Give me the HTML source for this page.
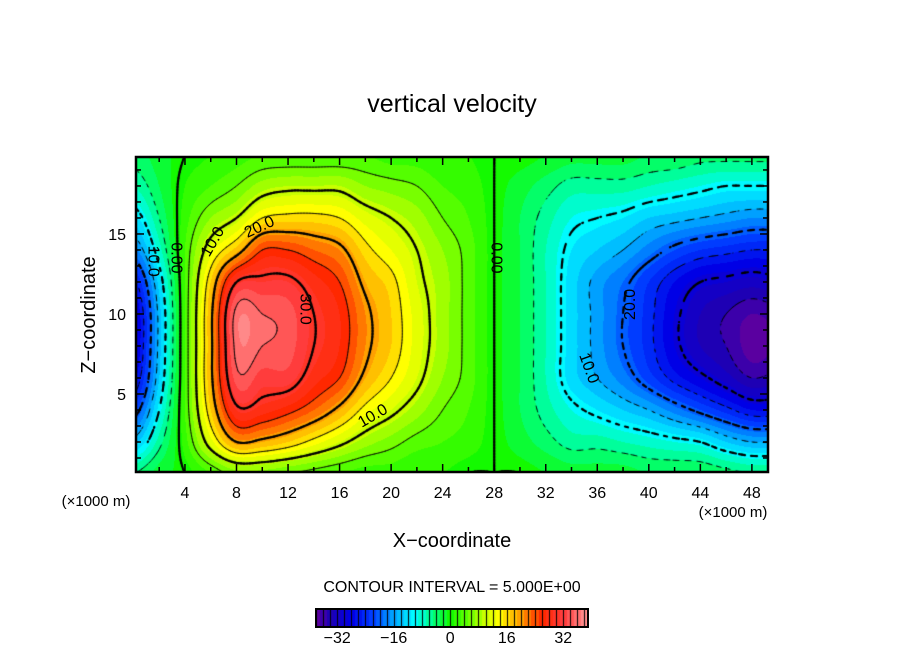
<!DOCTYPE html>
<html><head><meta charset="utf-8"><style>
html,body{margin:0;padding:0;background:#fff;}
#wrap{position:relative;width:904px;height:654px;overflow:hidden;font-family:"Liberation Sans",sans-serif;}
canvas{position:absolute;left:0;top:0;}
svg{position:absolute;left:0;top:0;}
</style></head><body>
<div id="wrap">
<canvas id="cv" width="904" height="654"></canvas>
<svg id="sv" width="904" height="654"></svg>
</div>
<script>
// grid data: x (km) columns, z (km) rows, vertical velocity values
const xs = [0,2,4,6,8,10,12,14,16,18,20,22,24,26,28,30,32,34,36,38,40,42,44,46,48,50];
const zs = [0,2,4,6,8,10,12,14,16,18,20];
const w0  = [-5,-14,-22,-28,-30,-30,-26,-18,-12,-7,-4];
const w2  = [-2,-6,-10,-13,-14,-14,-12,-8,-5,-3,-2];
const w4  = [0,2,3,3,3,3,3,3,2,1,0];
const w6  = [3,12,17,19,19,19,17,12,7,3,1];
const w8  = [6,20,29,34,36,36,30,18,10,5,2];
const w10 = [6,19,28,32,35,35,31,25,15,8,3];
const w12 = [5,17,26,32,34,34,31,25,16,9,3];
const w14 = [4,14,23,28,30,30,28,23,16,9,3];
const w16 = [3,11,19,25,27,27,25,21,15,9,3];
const w18 = [2,8,14,19,21,21,19,16,12,7,3];
const w20 = [2,6,11,15,17,17,16,13,10,6,2];
const w22 = [1,4,8,11,12,12,11,10,8,5,2];
const w24 = [1,3,5,7,8,8,8,7,5,3,1];
const w26 = [0,2,3,4,4,4,4,4,3,2,1];
const w28 = [0,0,0,0,0,0,0,0,0,0,0];
const w30 = [0,-2,-3,-3,-3,-3,-3,-3,-3,-2,0];
const w32 = [-1,-4,-6,-7,-7,-7,-7,-7,-6,-4,-1];
const w34 = [-2,-6,-9,-12,-12,-12,-12,-11,-9,-6,-2];
const w36 = [-2,-6,-11,-15,-16,-16,-16,-13,-10,-6,-2];
const w38 = [-2,-7,-13,-18,-20,-20,-19,-15,-11,-6,-2];
const w40 = [-3,-8,-15,-22,-24,-24,-23,-18,-13,-7,-3];
const w42 = [-3,-9,-18,-26,-29,-29,-27,-21,-14,-8,-3];
const w44 = [-3,-10,-21,-29,-33,-33,-30,-23,-15,-9,-4];
const w46 = [-4,-13,-24,-32,-35,-35,-31,-24,-16,-10,-4];
const w48 = [-5,-15,-27,-35,-38,-37,-32,-25,-17,-10,-4];
const w50 = [-5,-15,-27,-34,-37,-36,-31,-25,-17,-10,-4];
const cols = [w0,w2,w4,w6,w8,w10,w12,w14,w16,w18,w20,w22,w24,w26,w28,w30,w32,w34,w36,w38,w40,w42,w44,w46,w48,w50];
const levels = [-35,-30,-25,-20,-15,-10,-5,0,5,10,15,20,25,30,35];
const xTicks = [4,8,12,16,20,24,28,32,36,40,44,48];
const zTicks = [5,10,15];
const cbTicks = [-32,-16,0,16,32];
const labels = [
 {t:"0.00",x:3.3,z:13.5,r:90},{t:"10.0",x:1.5,z:13.3,r:90},{t:"10.0",x:6.2,z:14.5,r:-60},
 {t:"20.0",x:9.8,z:15.4,r:-25},{t:"30.0",x:13.3,z:10.3,r:90},{t:"10.0",x:18.6,z:3.6,r:-30},
 {t:"0.00",x:28.1,z:13.5,r:90},{t:"20.0",x:38.6,z:10.6,r:-90},{t:"10.0",x:35.3,z:6.6,r:70}
];

// geometry
const PX0=136, PX1=768, PY0=157, PY1=472;
const XD0=0.2, XD1=49.25, ZD0=0.125, ZD1=19.81;
const sx = x => PX0 + (x-XD0)/(XD1-XD0)*(PX1-PX0);
const sz = z => PY1 - (z-ZD0)/(ZD1-ZD0)*(PY1-PY0);
const ix = px => XD0 + (px-PX0)/(PX1-PX0)*(XD1-XD0);
const iz = py => ZD0 + (PY1-py)/(PY1-PY0)*(ZD1-ZD0);

function cr(p0,p1,p2,p3,t){return 0.5*((2*p1)+(-p0+p2)*t+(2*p0-5*p1+4*p2-p3)*t*t+(-p0+3*p1-3*p2+p3)*t*t*t);}
function val(x,z){
  const nx=xs.length, nz=zs.length;
  let fx=(x-xs[0])/(xs[1]-xs[0]); let fz=(z-zs[0])/(zs[1]-zs[0]);
  fx=Math.max(0,Math.min(nx-1.0001,fx)); fz=Math.max(0,Math.min(nz-1.0001,fz));
  const i=Math.floor(fx), j=Math.floor(fz), tx=fx-i, tz=fz-j;
  const g=(a,b)=>cols[Math.max(0,Math.min(nx-1,a))][Math.max(0,Math.min(nz-1,b))];
  const r=[];
  for(let jj=-1;jj<=2;jj++) r.push(cr(g(i-1,j+jj),g(i,j+jj),g(i+1,j+jj),g(i+2,j+jj),tx));
  return cr(r[0],r[1],r[2],r[3],tz);
}
const stops=[[-38,[90,0,160]],[-34,[30,0,180]],[-28,[0,0,230]],[-22,[0,60,255]],[-16,[0,160,255]],[-10,[0,250,255]],[-5,[0,255,130]],[0,[20,250,0]],[5,[100,255,0]],[10,[200,255,0]],[14,[255,255,0]],[20,[255,160,0]],[26,[255,40,0]],[32,[255,60,60]],[39,[255,150,150]]];
function col(v){
  v=Math.round(v/2)*2;
  if(v<=stops[0][0]) return stops[0][1];
  for(let k=1;k<stops.length;k++){ if(v<=stops[k][0]){const a=stops[k-1],b=stops[k];const t=(v-a[0])/(b[0]-a[0]);return a[1].map((c,i)=>Math.round(c+(b[1][i]-c)*t));}}
  return stops[stops.length-1][1];
}
const cv=document.getElementById('cv'), ctx=cv.getContext('2d');
const img=ctx.createImageData(PX1-PX0,PY1-PY0);
for(let py=PY0;py<PY1;py++)for(let px=PX0;px<PX1;px++){
  const c=col(val(ix(px+0.5),iz(py+0.5)));const o=((py-PY0)*(PX1-PX0)+(px-PX0))*4;
  img.data[o]=c[0];img.data[o+1]=c[1];img.data[o+2]=c[2];img.data[o+3]=255;}
ctx.putImageData(img,PX0,PY0);
// contours (marching squares)
const S=3, NX=Math.ceil((PX1-PX0)/S), NZ=Math.ceil((PY1-PY0)/S);
const F=[];for(let a=0;a<=NX;a++){F.push([]);for(let b=0;b<=NZ;b++)F[a].push(val(ix(PX0+a*S),iz(PY0+b*S)));}
ctx.save();ctx.beginPath();ctx.rect(PX0,PY0,PX1-PX0,PY1-PY0);ctx.clip();
ctx.strokeStyle='#000';ctx.lineCap='round';
levels.forEach(L=>{
  ctx.lineWidth = (L%10===0)?2.2:0.9;
  for(let a=0;a<NX;a++)for(let b=0;b<NZ;b++){
    if(L<0 && ((a+b)%4)>=2) continue;
    const v=[F[a][b],F[a+1][b],F[a+1][b+1],F[a][b+1]];
    const p=[[a,b],[a+1,b],[a+1,b+1],[a,b+1]];
    const pts=[];
    for(let e=0;e<4;e++){const v1=v[e],v2=v[(e+1)%4];
      if((v1<L)!==(v2<L)){const t=(L-v1)/(v2-v1);const A=p[e],B=p[(e+1)%4];pts.push([PX0+(A[0]+(B[0]-A[0])*t)*S,PY0+(A[1]+(B[1]-A[1])*t)*S]);}}
    ctx.beginPath();
    for(let k=0;k+1<pts.length;k+=2){ctx.moveTo(pts[k][0],pts[k][1]);ctx.lineTo(pts[k+1][0],pts[k+1][1]);}
    ctx.stroke();
  }});
ctx.restore();
// colorbar
const CB0=316,CB1=588,CBY=609,CBH=18,CBV0=-38,CBV1=39;
const cbx=v=>CB0+(v-CBV0)/(CBV1-CBV0)*(CB1-CB0);
for(let px=CB0;px<CB1;px++){const v=CBV0+(px-CB0+0.5)/(CB1-CB0)*(CBV1-CBV0);const c=col(v);ctx.fillStyle=`rgb(${c})`;ctx.fillRect(px,CBY,1,CBH);}
ctx.fillStyle='#000';for(let v=CBV0;v<CBV1;v+=2){ctx.fillRect(Math.round(cbx(v)),CBY,1,CBH);}

// SVG overlay
const NS='http://www.w3.org/2000/svg', sv=document.getElementById('sv');
function mk(tag,attrs,name,text){const e=document.createElementNS(NS,tag);for(const k in attrs)e.setAttribute(k,attrs[k]);
  
  
  if(text!==undefined)e.textContent=text;sv.appendChild(e);return e;}
mk('rect',{x:PX0,y:PY0,width:PX1-PX0,height:PY1-PY0,fill:'none',stroke:'#000','stroke-width':2.5},'plot-frame');
mk('rect',{x:CB0,y:CBY,width:CB1-CB0,height:CBH,fill:'none',stroke:'#000','stroke-width':2},'colorbar-frame');
for(let x=2;x<=48;x+=2){const big=x%4===0,L=big?8:5,X=sx(x);
  mk('line',{x1:X,y1:PY1,x2:X,y2:PY1-L,stroke:'#000','stroke-width':1.5},'x-tick');
  mk('line',{x1:X,y1:PY0,x2:X,y2:PY0+L,stroke:'#000','stroke-width':1.5},'x-tick-top');}
for(let z=1;z<=19;z++){const big=z%5===0,L=big?8:5,Y=sz(z);
  mk('line',{x1:PX0,y1:Y,x2:PX0+L,y2:Y,stroke:'#000','stroke-width':1.5},'z-tick');
  mk('line',{x1:PX1,y1:Y,x2:PX1-L,y2:Y,stroke:'#000','stroke-width':1.5},'z-tick-right');}
xTicks.forEach(x=>mk('text',{x:sx(x),y:498,'font-size':16,'text-anchor':'middle'},'x-tick-label',String(x)));
zTicks.forEach(z=>mk('text',{x:126,y:sz(z)+6,'font-size':16,'text-anchor':'end'},'z-tick-label',String(z)));
cbTicks.forEach(v=>mk('text',{x:cbx(v),y:643,'font-size':16,'text-anchor':'middle'},'colorbar-tick-label',v<0?'\u2212'+(-v):String(v)));
labels.forEach(l=>mk('text',{x:sx(l.x),y:sz(l.z),'font-size':16,'text-anchor':'middle','dominant-baseline':'middle',transform:`rotate(${l.r} ${sx(l.x)} ${sz(l.z)})`},'contour-label',l.t));
mk('text',{x:452,y:112,'font-size':25,'text-anchor':'middle'},'chart-title','vertical velocity');
mk('text',{x:452,y:547,'font-size':20,'text-anchor':'middle'},'x-axis-title','X\u2212coordinate');
mk('text',{x:95,y:315,'font-size':20,'text-anchor':'middle',transform:'rotate(-90 95 315)'},'z-axis-title','Z\u2212coordinate');
mk('text',{x:96,y:506,'font-size':15,'text-anchor':'middle'},'z-unit-label','(\u00d71000 m)');
mk('text',{x:733,y:517,'font-size':15,'text-anchor':'middle'},'x-unit-label','(\u00d71000 m)');
mk('text',{x:452,y:592,'font-size':16,'text-anchor':'middle'},'contour-interval-label','CONTOUR INTERVAL = 5.000E+00');
</script>
</body></html>
